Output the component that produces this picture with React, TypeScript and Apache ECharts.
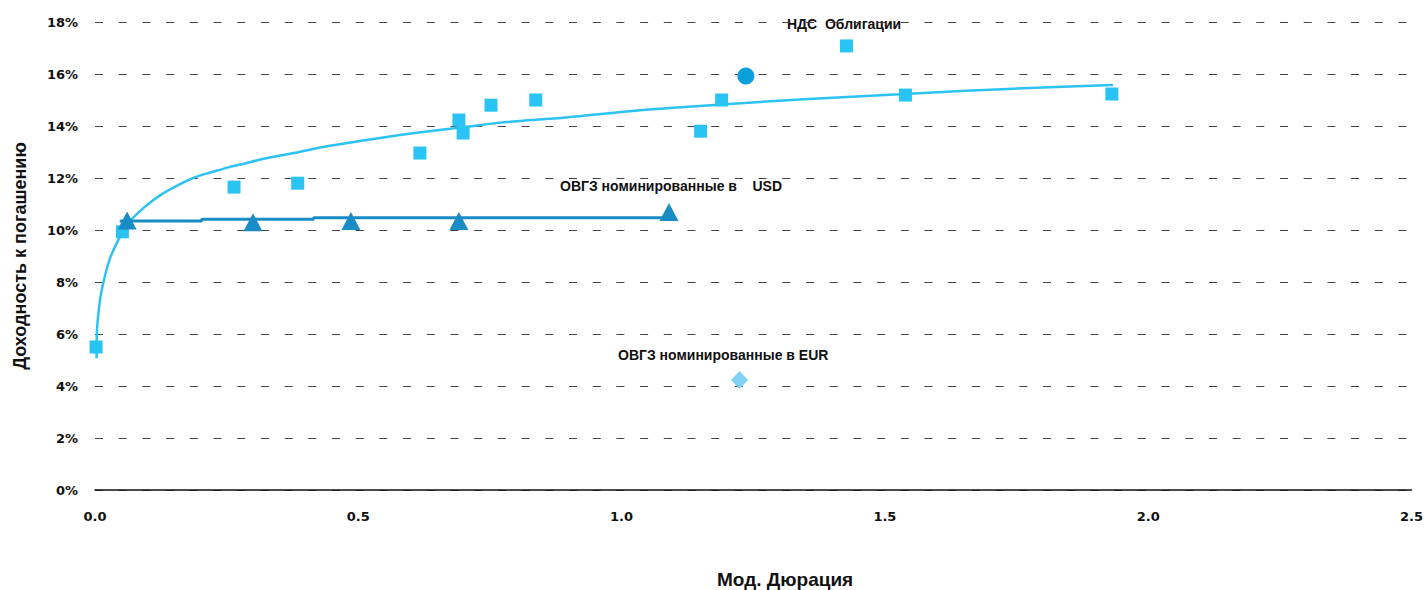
import React, { useEffect, useRef } from "react";
import * as echarts from "echarts";

// НДС облигации (squares)
const ndsX = [0.002, 0.052, 0.264, 0.385, 0.617, 0.691, 0.699, 0.752, 0.837, 1.15, 1.19, 1.427, 1.539, 1.931];
const ndsY = [5.5, 9.93, 11.65, 11.8, 12.96, 14.23, 13.73, 14.8, 15.0, 13.8, 15.0, 17.08, 15.19, 15.23];

// logarithmic trend line of НДС
const trendX = [0.003, 0.0035, 0.0095, 0.017, 0.0285, 0.045, 0.063, 0.095, 0.127, 0.158, 0.19, 0.221, 0.253, 0.285, 0.316, 0.38, 0.443, 0.516, 0.579, 0.642, 0.706, 0.769, 0.895, 1.021, 1.148, 1.275, 1.401, 1.528, 1.655, 1.813, 1.933];
const trendY = [5.07, 6.0, 7.3, 8.08, 8.91, 9.65, 10.26, 10.9, 11.38, 11.73, 12.03, 12.22, 12.41, 12.56, 12.72, 12.97, 13.23, 13.46, 13.65, 13.82, 13.97, 14.13, 14.33, 14.58, 14.77, 14.94, 15.09, 15.22, 15.36, 15.49, 15.58];

// ОВГЗ USD (triangles) and its trend line
const usdX = [0.061, 0.3, 0.486, 0.691, 1.09];
const usdY = [10.37, 10.3, 10.35, 10.35, 10.69];
const usdTrendX = [0.047, 0.2025, 0.2025, 0.415, 0.415, 1.09];
const usdTrendY = [10.35, 10.35, 10.41, 10.41, 10.47, 10.47];

// single circle point
const circleX = [1.236];
const circleY = [15.92];

// ОВГЗ EUR (diamond)
const eurX = [1.224];
const eurY = [4.23];

const xTicks = [0, 0.5, 1.0, 1.5, 2.0, 2.5];

const zip = (xs: number[], ys: number[]) => xs.map((x, i) => [x, ys[i]]);

export default function App() {
  const ref = useRef<HTMLDivElement>(null);
  useEffect(() => {
    document.body.style.margin = "0";
    if (!ref.current) return;
    const chart = echarts.init(ref.current, null, { renderer: "svg" });
    const tickFont = { fontFamily: "DejaVu Sans", fontWeight: "bold" as const, fontSize: 13, color: "#111" };
    const noteFont = "bold 14px 'Liberation Sans'";
    chart.setOption({
      animation: false,
      backgroundColor: "#fff",
      grid: { left: 95, top: 22, width: 1317, height: 468, containLabel: false },
      xAxis: {
        type: "value",
        min: xTicks[0],
        max: xTicks[xTicks.length - 1],
        interval: 0.5,
        axisLine: { show: true, onZero: true, lineStyle: { color: "#111", width: 1.5 } },
        axisTick: { show: false },
        splitLine: { show: false },
        axisLabel: { ...tickFont, margin: 20, formatter: (v: number) => v.toFixed(1) },
      },
      yAxis: {
        type: "value",
        min: 0,
        max: 18,
        interval: 2,
        name: "Доходность к погашению",
        nameLocation: "middle",
        nameGap: 66,
        nameTextStyle: { fontFamily: "Liberation Sans", fontWeight: "bold", fontSize: 18, color: "#111" },
        axisLine: { show: false },
        axisTick: { show: false },
        axisLabel: { ...tickFont, margin: 17, formatter: "{value}%" },
        splitLine: { show: true, lineStyle: { type: [8, 15.7], color: "#444", width: 1.2 } },
      },
      graphic: [
        { type: "text", left: 787, top: 17, style: { text: "НДС  Облигации", font: noteFont, fill: "#111" } },
        { type: "text", left: 560, top: 179, style: { text: "ОВГЗ номинированные в    USD", font: noteFont, fill: "#111" } },
        { type: "text", left: 618, top: 348, style: { text: "ОВГЗ номинированные в EUR", font: noteFont, fill: "#111" } },
        { type: "text", left: 717, top: 570, style: { text: "Мод. Дюрация", font: "bold 19px 'Liberation Sans'", fill: "#111" } },
      ],
      series: [
        {
          name: "trend",
          type: "line",
          data: zip(trendX, trendY),
          symbol: "none",
          smooth: 0.3,
          lineStyle: { color: "#2CC3F2", width: 2.5 },
          z: 2,
        },
        {
          name: "usdTrend",
          type: "line",
          data: zip(usdTrendX, usdTrendY),
          symbol: "none",
          lineStyle: { color: "#1A8CC4", width: 3 },
          z: 2,
        },
        {
          name: "НДС",
          type: "scatter",
          data: zip(ndsX, ndsY),
          symbol: "rect",
          symbolSize: 13,
          itemStyle: { color: "#29C4F3", opacity: 1 },
          z: 3,
        },
        {
          name: "USD",
          type: "scatter",
          data: zip(usdX, usdY),
          symbol: "triangle",
          symbolSize: [19, 18],
          itemStyle: { color: "#1A8CC4", opacity: 1 },
          z: 4,
        },
        {
          name: "circle",
          type: "scatter",
          data: zip(circleX, circleY),
          symbol: "circle",
          symbolSize: 17,
          itemStyle: { color: "#0AA0DC", opacity: 1 },
          z: 4,
        },
        {
          name: "EUR",
          type: "scatter",
          data: zip(eurX, eurY),
          symbol: "diamond",
          symbolSize: [17, 18],
          itemStyle: { color: "#80D2F5", opacity: 1 },
          z: 4,
        },
      ],
    });
    return () => chart.dispose();
  }, []);
  return <div ref={ref} style={{ width: 1426, height: 590 }} />;
}
